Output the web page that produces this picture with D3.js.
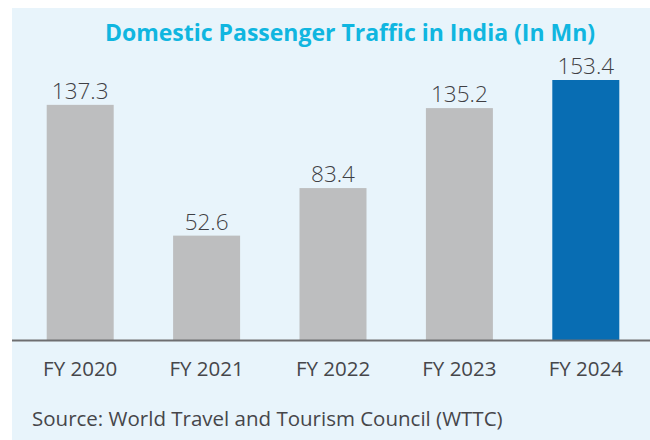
<!DOCTYPE html>
<html lang="en">
<head>
  <meta charset="UTF-8">
  <title>Domestic Passenger Traffic in India</title>
  <script src="https://cdnjs.cloudflare.com/ajax/libs/d3/7.8.5/d3.min.js"></script>
  <style>
    body { margin: 0; background: #fff; }
    svg { display: block; }
    text { font-family: 'Open Sans', 'Noto Sans', sans-serif; }
  </style>
</head>
<body>
<script>
  // Data
  const years = ["FY 2020", "FY 2021", "FY 2022", "FY 2023", "FY 2024"];
  const traffic = [137.3, 52.6, 83.4, 135.2, 153.4];
  const highlight = ["FY 2024"];

  const W = 650, H = 440;
  const baseY = 340, topY = 80;

  const svg = d3.select("body").append("svg")
    .attr("width", W)
    .attr("height", H);

  // light blue panel
  svg.append("rect")
    .attr("x", 12).attr("y", 8)
    .attr("width", W - 12).attr("height", H - 8)
    .attr("fill", "#e8f4fb");

  const x = d3.scaleBand()
    .domain(years)
    .range([17, 649])
    .paddingInner(0.47)
    .paddingOuter(0.235);

  // the original bars don't start exactly at zero, floor fitted by eye
  const y = d3.scaleLinear()
    .domain([-15, d3.max(traffic)])
    .range([baseY, topY]);

  const rows = years.map((d, i) => ({ year: d, value: traffic[i] }));

  svg.append("text")
    .attr("x", 350).attr("y", 41)
    .attr("text-anchor", "middle")
    .attr("font-size", 23)
    .attr("font-weight", 700)
    .attr("fill", "#10b6e0")
    .text("Domestic Passenger Traffic in India (In Mn)");

  svg.selectAll(".bar")
    .data(rows)
    .enter().append("rect")
    .attr("class", "bar")
    .attr("x", d => x(d.year))
    .attr("y", d => y(d.value))
    .attr("width", x.bandwidth())
    .attr("height", d => baseY - y(d.value))
    .attr("fill", d => highlight.includes(d.year) ? "#086db3" : "#bdbebf");

  // value labels
  svg.selectAll(".val")
    .data(rows)
    .enter().append("text")
    .attr("class", "val")
    .attr("x", d => x(d.year) + x.bandwidth() / 2)
    .attr("y", d => y(d.value) - 6)
    .attr("text-anchor", "middle")
    .attr("font-size", 22.5)
    .attr("font-weight", 300)
    .attr("fill", "#3f3f44")
    .text(d => d.value.toFixed(1));

  // baseline
  svg.append("line")
    .attr("x1", 12).attr("x2", W)
    .attr("y1", baseY + 0.5).attr("y2", baseY + 0.5)
    .attr("stroke", "#6e6e70")
    .attr("stroke-width", 2);

  const xAxis = svg.append("g")
    .attr("transform", `translate(0,${baseY})`)
    .call(d3.axisBottom(x).tickSize(0).tickPadding(21));
  xAxis.select(".domain").remove();
  xAxis.selectAll("text")
    .attr("font-family", "'Open Sans', 'Noto Sans', sans-serif")
    .attr("font-size", 20.5)
    .attr("font-weight", 400)
    .attr("fill", "#46464a");

  svg.append("text")
    .attr("x", 32).attr("y", 426)
    .attr("font-size", 20.5)
    .attr("font-weight", 400)
    .attr("fill", "#46464a")
    .text("Source: World Travel and Tourism Council (WTTC)");
</script>
</body>
</html>
